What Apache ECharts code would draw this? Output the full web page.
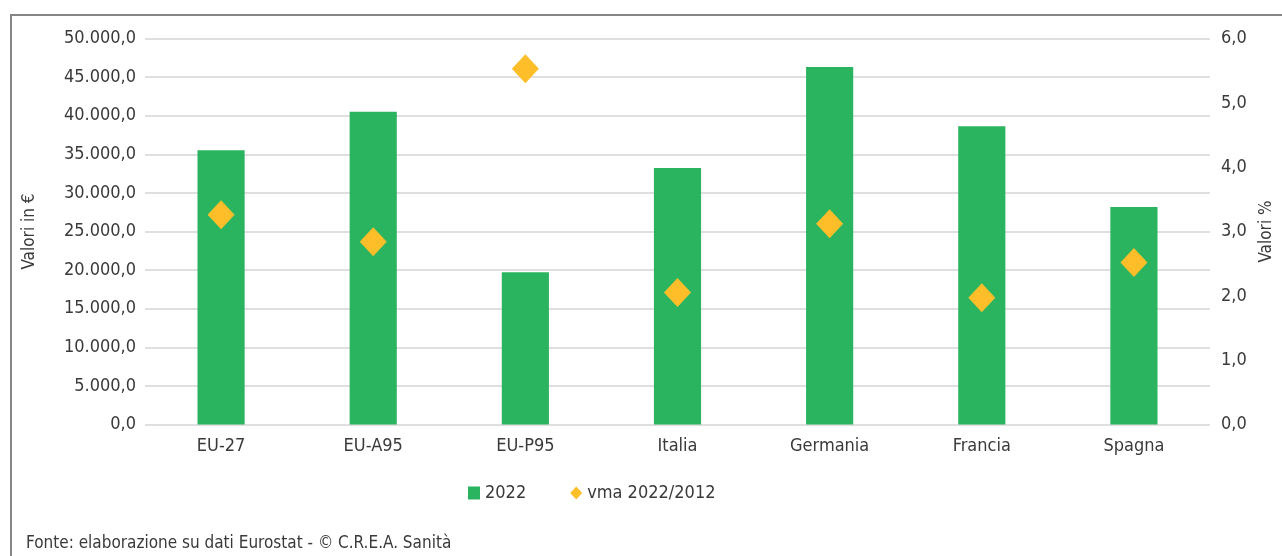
<!DOCTYPE html>
<html>
<head>
<meta charset="utf-8">
<script src="https://cdn.jsdelivr.net/npm/echarts@6/dist/echarts.min.js"></script>
<style>
  html, body { margin: 0; padding: 0; background: #fff; }
  #container { width: 1282px; height: 556px; }
</style>
</head>
<body>
<div id="container"></div>
<script>
// dati
var categorie = ['EU-27', 'EU-A95', 'EU-P95', 'Italia', 'Germania', 'Francia', 'Spagna'];
var valori2022 = [35520, 40520, 19720, 33230, 46310, 38630, 28170];
var vma = [3.26, 2.84, 5.53, 2.05, 3.12, 1.97, 2.52];
var fonte = 'Fonte: elaborazione su dati Eurostat - © C.R.E.A. Sanità';

var font = '"Liberation Sans Narrow", "DejaVu Sans Condensed", sans-serif';
var testo = '#3a3a3a';

//formato italiano
function fmt(v, dec) {
    var s = v.toFixed(dec).split('.');
    var intero = s[0].replace(/\B(?=(\d{3})+(?!\d))/g, '.');
    return intero + ',' + s[1];
}

var dom = document.getElementById("container");
var myChart = echarts.init(dom);
var option = {
    animation: false,
    textStyle: { fontFamily: font },
    grid: {
        left: 145,
        right: 72,
        top: 38.5,
        bottom: 131.5,
        outerBoundsMode: 'none'
    },
    legend: {
        left: 463,
        top: 479,
        itemGap: 44,
        itemWidth: 12,
        itemHeight: 13,
        textStyle: { fontFamily: font, fontSize: 18, color: testo },
        data: [
            { name: '2022', icon: 'rect' },
            { name: 'vma 2022/2012', icon: 'diamond' }
        ]
    },
    xAxis: {
        type: 'category',
        data: categorie,
        axisLine: { show: false },
        axisTick: { show: false },
        axisLabel: { fontFamily: font, fontSize: 18, color: testo, margin: 13 }
    },
    yAxis: [{
        type: 'value',
        min: 0,
        max: 50000,
        interval: 5000,
        name: 'Valori in €',
        nameLocation: 'middle',
        nameRotate: 90,
        nameGap: 107,
        nameTextStyle: { fontFamily: font, fontSize: 17, color: testo },
        axisLabel: {
            fontFamily: font, fontSize: 18, color: testo, margin: 9,
            formatter: function (v) { return fmt(v, 1); }
        },
        splitLine: { lineStyle: { color: '#d4d4d4', width: 1.5 } }
    }, {
        type: 'value',
        min: 0,
        max: 6,
        interval: 1,
        name: 'Valori %',
        nameLocation: 'middle',
        nameRotate: 90,
        nameGap: 48,
        nameTextStyle: { fontFamily: font, fontSize: 17, color: testo },
        axisLabel: {
            fontFamily: font, fontSize: 18, color: testo, margin: 11,
            formatter: function (v) { return fmt(v, 1); }
        },
        splitLine: { show: false }
    }],
    graphic: [{
        type: 'polyline',
        shape: { points: [[11, 556], [11, 15], [1282, 15]] },
        style: { stroke: '#858585', lineWidth: 2, fill: null },
        silent: true
    }, {
        type: 'text',
        left: 26,
        top: 535,
        style: { text: fonte, font: '17px ' + font, fill: testo }
    }],
    series: [{
        name: '2022',
        type: 'bar',
        barWidth: '31%',
        itemStyle: { color: '#2bb45f' },
        data: valori2022
    }, {
        name: 'vma 2022/2012',
        type: 'scatter',
        yAxisIndex: 1,
        symbol: 'diamond',
        symbolSize: [27, 29],
        itemStyle: { color: '#fdbe2a', opacity: 1 },
        data: vma
    }]
};
myChart.setOption(option);
</script>
</body>
</html>
